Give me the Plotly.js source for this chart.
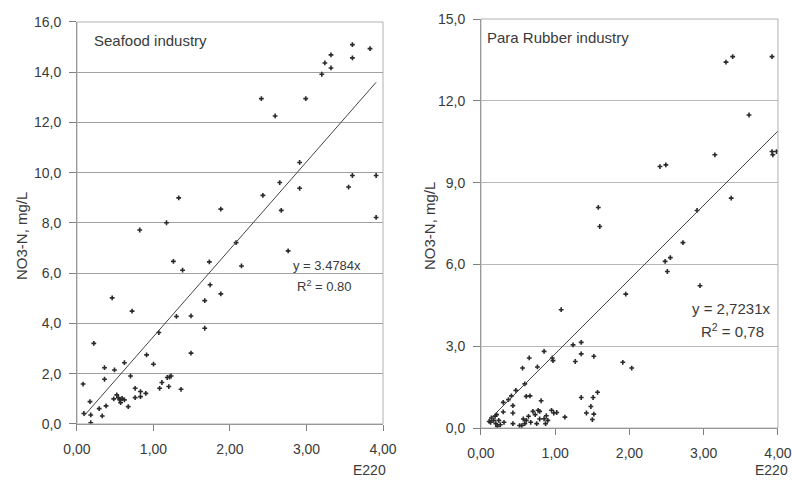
<!DOCTYPE html>
<html>
<head>
<meta charset="utf-8">
<script src="https://cdn.plot.ly/plotly-3.0.1.min.js"></script>
<style>html,body{margin:0;padding:0;background:#fff}#chart{width:792px;height:480px}</style>
</head>
<body>
<div id="chart"></div>
<script>
// Seafood industry (E220 vs NO3-N)
const seafoodX = [0.08,0.09,0.17,0.18,0.18,0.22,0.29,0.33,0.36,0.36,0.38,0.46,0.48,0.49,0.52,0.54,0.56,0.57,0.59,0.62,0.62,0.67,0.70,0.72,0.76,0.76,0.82,0.83,0.83,0.90,0.91,1.00,1.07,1.08,1.11,1.17,1.18,1.20,1.21,1.23,1.26,1.30,1.33,1.36,1.38,1.49,1.49,1.67,1.67,1.73,1.74,1.88,1.88,2.08,2.15,2.41,2.43,2.59,2.65,2.67,2.76,2.91,2.91,2.99,3.20,3.24,3.32,3.32,3.55,3.60,3.60,3.60,3.83,3.91,3.91];
const seafoodY = [1.59,0.42,0.89,0.36,0.05,3.21,0.61,0.32,2.24,1.78,0.72,5.02,1.00,2.15,1.16,1.05,0.96,0.85,1.02,0.96,2.44,0.69,1.91,4.49,1.42,1.05,7.72,1.29,1.09,1.22,2.75,2.38,3.64,1.42,1.65,8.01,1.85,1.49,1.87,1.91,6.47,4.28,9.00,1.38,6.12,4.30,2.82,4.91,3.81,6.45,5.54,8.55,5.18,7.22,6.29,12.95,9.10,12.26,9.61,8.50,6.89,10.41,9.38,12.95,13.92,14.37,14.69,14.17,9.43,15.10,14.57,9.89,14.94,9.89,8.22];
const seafoodSlope = 3.4784;
const seafoodFitX = [0.09, 3.91];

// Para Rubber industry
const rubberX = [3.30,3.39,3.92,3.61,3.15,3.92,3.98,3.93,2.41,2.49,2.91,3.37,1.58,1.60,2.72,2.48,2.55,2.51,2.95,1.95,1.08,1.24,1.35,1.35,1.27,1.52,1.91,2.03,0.85,0.96,0.97,0.65,0.56,0.76,0.59,0.61,0.66,0.47,0.41,0.37,0.30,0.43,0.81,1.35,1.51,1.57,1.48,1.42,1.52,1.50,1.13,0.98,0.95,0.88,0.79,0.77,0.70,0.73,0.79,0.90,0.87,0.75,0.64,0.61,0.59,0.55,0.52,0.43,0.43,0.30,0.31,0.26,0.22,0.19,0.17,0.13,0.11,0.20,0.24,0.21,0.14,0.57,0.67,1.02,0.85];
const rubberY = [13.42,13.62,13.62,11.48,10.02,10.14,10.14,10.02,9.59,9.65,7.98,8.43,8.09,7.39,6.80,6.11,6.25,5.74,5.22,4.91,4.34,3.05,3.14,2.72,2.44,2.63,2.41,2.20,2.81,2.57,2.47,2.57,2.20,2.24,1.62,1.16,1.18,1.38,1.18,1.04,0.94,0.82,1.00,1.12,1.12,1.31,0.79,0.55,0.51,0.31,0.40,0.55,0.65,0.45,0.61,0.65,0.61,0.49,0.33,0.28,0.16,0.16,0.43,0.28,0.16,0.09,0.09,0.16,0.55,0.59,0.21,0.12,0.06,0.43,0.28,0.21,0.24,0.16,0.28,0.49,0.37,0.33,0.21,0.57,0.34];
const rubberSlope = 2.7231;
const rubberFitX = [0.12, 4.0];

const xTicks = [0, 1, 2, 3, 4];
const seafoodYTicks = [0, 2, 4, 6, 8, 10, 12, 14, 16];
const rubberYTicks = [0, 3, 6, 9, 12, 15];

const FONT = 'Liberation Sans, Arial, sans-serif';
const TXT = '#3a3a3a';
const markerStyle = {symbol: 'cross', size: 4, color: '#2a2a2a', line: {width: 0}};

const traces = [
  {x: seafoodX, y: seafoodY, xaxis: 'x', yaxis: 'y', mode: 'markers', type: 'scatter', marker: markerStyle, hoverinfo: 'none'},
  {x: seafoodFitX, y: seafoodFitX.map(v => v * seafoodSlope), xaxis: 'x', yaxis: 'y', mode: 'lines', type: 'scatter', line: {color: '#444444', width: 1}, hoverinfo: 'none'},
  {x: rubberX, y: rubberY, xaxis: 'x2', yaxis: 'y2', mode: 'markers', type: 'scatter', marker: markerStyle, hoverinfo: 'none'},
  {x: rubberFitX, y: rubberFitX.map(v => v * rubberSlope), xaxis: 'x2', yaxis: 'y2', mode: 'lines', type: 'scatter', line: {color: '#444444', width: 1}, hoverinfo: 'none'}
];

function xAxis(domain, anchor) {
  return {domain: domain, anchor: anchor, range: [0, 4], tickvals: xTicks, tickformat: '.2f',
    showgrid: false, zeroline: false, showline: true, linecolor: '#808080', linewidth: 1,
    ticks: 'outside', ticklen: 6, tickcolor: '#808080', ticklabelstandoff: 6,
    tickfont: {family: FONT, size: 14, color: TXT}, fixedrange: true};
}
function yAxis(domain, anchor, range, ticks, grid) {
  return {domain: domain, anchor: anchor, range: range, tickvals: ticks, tickformat: '.1f',
    showgrid: true, gridcolor: grid, gridwidth: 1, zeroline: false, showline: true, linecolor: '#808080', linewidth: 1,
    ticks: 'outside', ticklen: 7, tickcolor: '#808080', ticklabelstandoff: 5,
    tickfont: {family: FONT, size: 14, color: TXT}, fixedrange: true};
}

const layout = {
  width: 792, height: 480,
  margin: {l: 0, r: 0, t: 0, b: 0},
  paper_bgcolor: '#ffffff', plot_bgcolor: '#ffffff',
  separators: ', ',
  showlegend: false,
  font: {family: FONT, color: TXT},
  xaxis: xAxis([0.0972, 0.4836], 'y'),
  yaxis: yAxis([0.1167, 0.9542], 'x', [0, 16], seafoodYTicks, '#a0a0a0'),
  xaxis2: xAxis([0.6073, 0.9823], 'y2'),
  yaxis2: yAxis([0.1083, 0.9604], 'x2', [0, 15], rubberYTicks, '#b8b8b8'),
  shapes: [
    {type: 'rect', xref: 'x domain', yref: 'y domain', x0: 0, x1: 1, y0: 0, y1: 1, line: {color: '#b0b0b0', width: 1}},
    {type: 'rect', xref: 'x2 domain', yref: 'y2 domain', x0: 0, x1: 1, y0: 0, y1: 1, line: {color: '#b0b0b0', width: 1}}
  ],
  annotations: [
    {xref: 'paper', yref: 'paper', x: 92/792, y: 1 - 40/480, xanchor: 'left', yanchor: 'middle', showarrow: false, text: 'Seafood industry', font: {family: FONT, size: 15, color: TXT}},
    {xref: 'paper', yref: 'paper', x: 485/792, y: 1 - 38/480, xanchor: 'left', yanchor: 'middle', showarrow: false, text: 'Para Rubber industry', font: {family: FONT, size: 15, color: TXT}},
    {xref: 'paper', yref: 'paper', x: 363/792, y: 1 - 265/480, xanchor: 'right', yanchor: 'middle', showarrow: false, text: 'y = 3.4784x', font: {family: FONT, size: 13, color: TXT}},
    {xref: 'paper', yref: 'paper', x: 354/792, y: 1 - 286/480, xanchor: 'right', yanchor: 'middle', showarrow: false, text: 'R<sup>2</sup> = 0.80', font: {family: FONT, size: 13, color: TXT}},
    {xref: 'paper', yref: 'paper', x: 772/792, y: 1 - 308/480, xanchor: 'right', yanchor: 'middle', showarrow: false, text: 'y = 2,7231x', font: {family: FONT, size: 15, color: TXT}},
    {xref: 'paper', yref: 'paper', x: 766/792, y: 1 - 330/480, xanchor: 'right', yanchor: 'middle', showarrow: false, text: 'R<sup>2</sup> = 0,78', font: {family: FONT, size: 15, color: TXT}},
    {xref: 'paper', yref: 'paper', x: 388/792, y: 1 - 470/480, xanchor: 'right', yanchor: 'middle', showarrow: false, text: 'E220', font: {family: FONT, size: 14, color: TXT}},
    {xref: 'paper', yref: 'paper', x: 790/792, y: 1 - 470/480, xanchor: 'right', yanchor: 'middle', showarrow: false, text: 'E220', font: {family: FONT, size: 14, color: TXT}},
    {xref: 'paper', yref: 'paper', x: 21/792, y: 1 - 236/480, xanchor: 'center', yanchor: 'middle', textangle: -90, showarrow: false, text: 'NO3-N, mg/L', font: {family: FONT, size: 15, color: TXT}},
    {xref: 'paper', yref: 'paper', x: 429/792, y: 1 - 226/480, xanchor: 'center', yanchor: 'middle', textangle: -90, showarrow: false, text: 'NO3-N, mg/L', font: {family: FONT, size: 15, color: TXT}}
  ]
};

Plotly.newPlot('chart', traces, layout, {displayModeBar: false, staticPlot: true});
</script>
</body>
</html>
